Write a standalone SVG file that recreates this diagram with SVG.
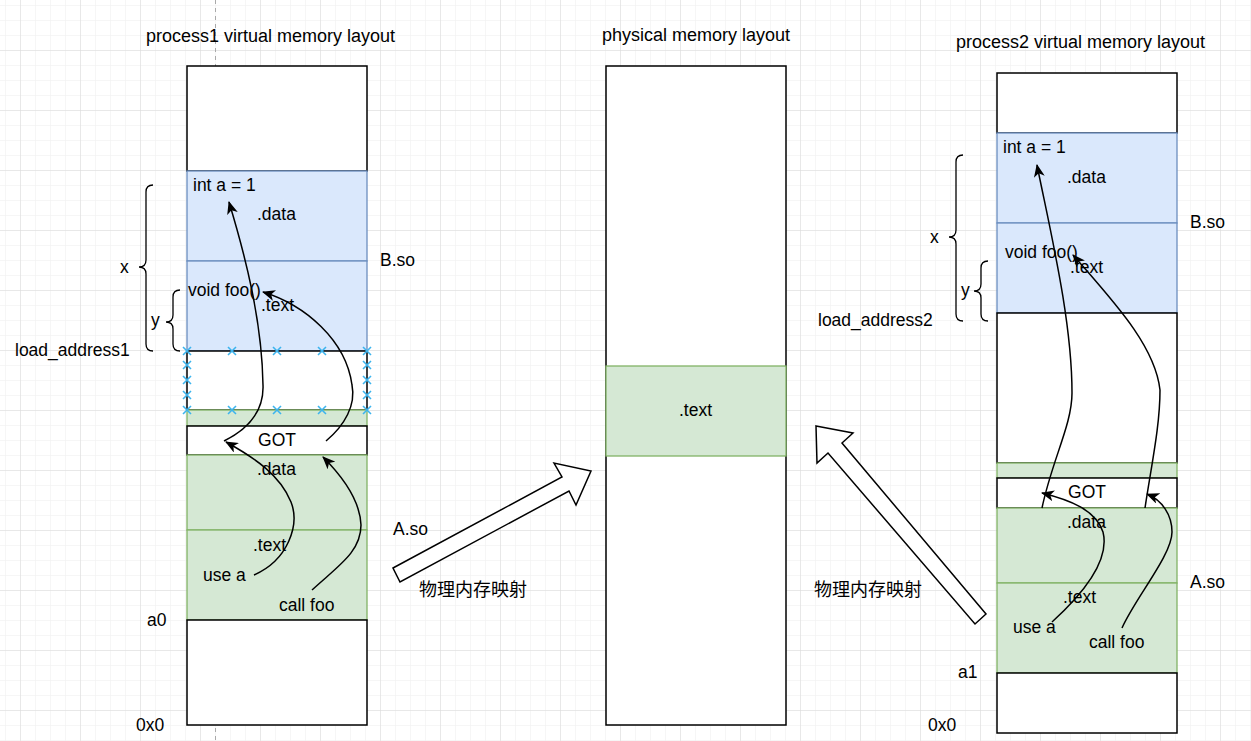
<svg xmlns="http://www.w3.org/2000/svg" width="1251" height="741" viewBox="0 0 1251 741">
<style>
.t{font-family:"Liberation Sans",Arial,"Noto Sans CJK SC",sans-serif;font-size:17.5px;fill:#000}
.ttl{font-size:18px}
.cjk{font-family:"Liberation Sans","Noto Sans CJK SC",sans-serif;font-size:18px}
.mid{text-anchor:middle}
.wb{fill:#fff;stroke:#000;stroke-width:1.5}
.bl{fill:#dae8fc;stroke:#6c8ebf;stroke-width:1.3}
.gr{fill:#d5e8d4;stroke:#82b366;stroke-width:1.3}
.br{fill:none;stroke:#000;stroke-width:1.3}
.cn{fill:none;stroke:#000;stroke-width:1.5}
.ba{fill:#fff;stroke:#000;stroke-width:1.5;stroke-linejoin:miter}
.xm{fill:none;stroke:#3cb4ee;stroke-width:1.6}
</style>
<defs>
<pattern id="minor" patternUnits="userSpaceOnUse" x="20" y="50" width="15" height="15">
<path d="M0 0H15M0 0V15" stroke="#eeeeee" stroke-width="1" fill="none"/>
</pattern>
<pattern id="major" patternUnits="userSpaceOnUse" x="20" y="50" width="60" height="60">
<path d="M0 0H60M0 0V60" stroke="#d9d9d9" stroke-width="1" fill="none"/>
</pattern>
<marker id="ah" viewBox="0 0 13 11" markerWidth="13" markerHeight="11" refX="12" refY="5.5" orient="auto" markerUnits="userSpaceOnUse">
<path d="M0,0 L13,5.5 L0,11 L3.5,5.5 z" fill="#000"/>
</marker>
<path id="x" d="M-4,-4L4,4M-4,4L4,-4"/>
</defs>
<g id="background">
<rect width="1251" height="741" fill="#fff"/>
<rect width="1251" height="741" fill="url(#minor)"/>
<rect width="1251" height="741" fill="url(#major)"/>
<line x1="215.5" y1="0" x2="215.5" y2="741" stroke="#aaa" stroke-dasharray="4,4" stroke-width="1"/>
</g>

<g id="process1">
<text class="t ttl" x="146" y="42">process1 virtual memory layout</text>
<rect class="wb" x="187" y="66" width="180" height="105"/>
<g id="p1-bso-data"><rect class="bl" x="187" y="171" width="180" height="90"/>
<text class="t" x="193" y="191">int a = 1</text>
<text class="t" x="257" y="220">.data</text></g>
<g id="p1-bso-text"><rect class="bl" x="187" y="261" width="180" height="90"/>
<text class="t" x="188" y="296">void foo()</text>
<text class="t" x="261" y="311">.text</text></g>
<rect class="wb" x="187" y="351" width="180" height="59"/>
<rect class="gr" x="187" y="410" width="180" height="16"/>
<g id="p1-got"><rect class="wb" x="187" y="426" width="180" height="29"/>
<text class="t mid" x="277" y="446">GOT</text></g>
<g id="p1-aso-data"><rect class="gr" x="187" y="455" width="180" height="75"/>
<text class="t" x="257" y="475">.data</text></g>
<g id="p1-aso-text"><rect class="gr" x="187" y="530" width="180" height="90"/>
<text class="t" x="253" y="551">.text</text>
<text class="t" x="203" y="581">use a</text>
<text class="t" x="279" y="611">call foo</text></g>
<rect class="wb" x="187" y="620" width="180" height="105"/>
<g id="p1-crosses" class="xm">
<use href="#x" x="187" y="351"/><use href="#x" x="232" y="351"/><use href="#x" x="277" y="351"/><use href="#x" x="322" y="351"/><use href="#x" x="367" y="351"/>
<use href="#x" x="187" y="410"/><use href="#x" x="232" y="410"/><use href="#x" x="277" y="410"/><use href="#x" x="322" y="410"/><use href="#x" x="367" y="410"/>
<use href="#x" x="187" y="365"/><use href="#x" x="187" y="380"/><use href="#x" x="187" y="395"/>
<use href="#x" x="367" y="365"/><use href="#x" x="367" y="380"/><use href="#x" x="367" y="395"/>
</g>
<path class="br" d="M153 185 Q146 185 146 192 L146 260 Q146 267 139 267 Q146 267 146 274 L146 344 Q146 351 153 351"/>
<path class="br" d="M180 290 Q173 290 173 297 L173 315 Q173 322 166 322 Q173 322 173 329 L173 344 Q173 351 180 351"/>
<text class="t" x="120" y="273">x</text>
<text class="t" x="151" y="326">y</text>
<text class="t" x="15" y="356">load_address1</text>
<text class="t" x="380" y="266">B.so</text>
<text class="t" x="393" y="535">A.so</text>
<text class="t" x="147" y="626">a0</text>
<text class="t" x="136" y="731">0x0</text>
</g>

<g id="physical">
<text class="t ttl" x="602" y="41">physical memory layout</text>
<rect class="wb" x="606" y="66" width="180" height="659"/>
<g id="phys-text"><rect class="gr" x="606" y="366" width="180" height="90"/>
<text class="t" x="679" y="416">.text</text></g>
</g>

<g id="process2">
<text class="t ttl" x="956" y="48">process2 virtual memory layout</text>
<rect class="wb" x="997" y="73" width="180" height="60"/>
<g id="p2-bso-data"><rect class="bl" x="997" y="133" width="180" height="90"/>
<text class="t" x="1003" y="153">int a = 1</text>
<text class="t" x="1067" y="183">.data</text></g>
<g id="p2-bso-text"><rect class="bl" x="997" y="223" width="180" height="90"/>
<text class="t" x="1005" y="258">void foo()</text>
<text class="t" x="1070" y="273">.text</text></g>
<rect class="wb" x="997" y="313" width="180" height="150"/>
<rect class="gr" x="997" y="463" width="180" height="15"/>
<g id="p2-got"><rect class="wb" x="997" y="478" width="180" height="30"/>
<text class="t mid" x="1087" y="498">GOT</text></g>
<g id="p2-aso-data"><rect class="gr" x="997" y="508" width="180" height="75"/>
<text class="t" x="1067" y="528">.data</text></g>
<g id="p2-aso-text"><rect class="gr" x="997" y="583" width="180" height="90"/>
<text class="t" x="1063" y="603">.text</text>
<text class="t" x="1013" y="633">use a</text>
<text class="t" x="1089" y="648">call foo</text></g>
<rect class="wb" x="997" y="673" width="180" height="60"/>
<path class="br" d="M963 155 Q956 155 956 162 L956 230 Q956 237 949 237 Q956 237 956 244 L956 314 Q956 321 963 321"/>
<path class="br" d="M988 261 Q981 261 981 268 L981 284 Q981 291 974 291 Q981 291 981 298 L981 314 Q981 321 988 321"/>
<text class="t" x="930" y="243">x</text>
<text class="t" x="961" y="296">y</text>
<text class="t" x="818" y="326">load_address2</text>
<text class="t" x="1190" y="228">B.so</text>
<text class="t" x="1190" y="588">A.so</text>
<text class="t" x="958" y="678">a1</text>
<text class="t" x="928" y="731">0x0</text>
</g>

<g id="mapping-arrows">
<g id="map1"><polygon class="ba" points="393,568 562,477 554,463 591,471 576,505 569,491 400,582"/>
<text class="t cjk" x="419" y="596">物理内存映射</text></g>
<g id="map2"><polygon class="ba" points="816,426 853,433 842,443 986,614 975,624 828,453 817,463"/>
<text class="t cjk" x="814" y="596">物理内存映射</text></g>
</g>

<g id="connectors">
<path class="cn" marker-end="url(#ah)" d="M224 441 C250 428 264 410 263 385 C262 320 245 255 229 202"/>
<path class="cn" marker-end="url(#ah)" d="M326 441 C345 425 356 405 352 385 C346 340 305 305 263 292"/>
<path class="cn" marker-end="url(#ah)" d="M254 575 C288 560 300 525 291 502 C280 475 255 458 226 442"/>
<path class="cn" marker-end="url(#ah)" d="M312 590 C338 566 361 552 361 525 C360 500 342 476 323 457"/>
<path class="cn" marker-end="url(#ah)" d="M1042 508 C1052 460 1072 425 1072 393 C1072 320 1050 230 1037 165"/>
<path class="cn" marker-end="url(#ah)" d="M1145 508 C1152 462 1160 425 1160 390 C1155 345 1112 300 1073 255"/>
<path class="cn" marker-end="url(#ah)" d="M1052 622 C1085 592 1110 560 1103 532 C1096 510 1070 500 1042 493"/>
<path class="cn" marker-end="url(#ah)" d="M1122 628 C1136 597 1172 555 1172 532 C1172 515 1162 500 1147 494"/>
</g>
</svg>
